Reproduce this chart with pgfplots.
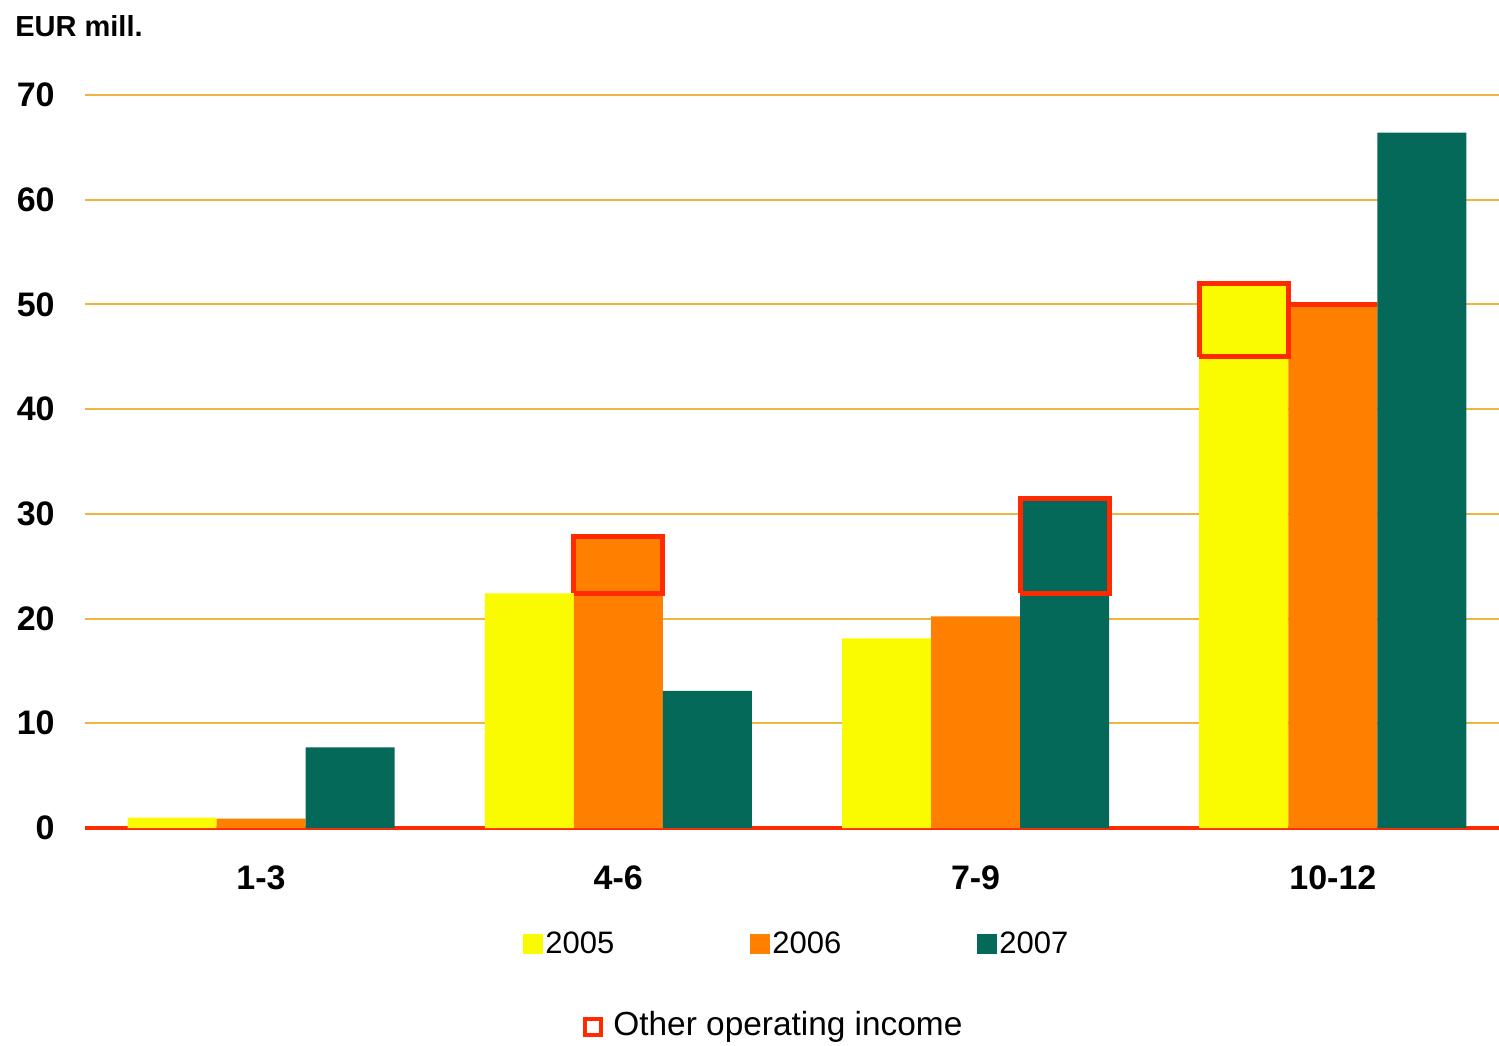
\documentclass[border=0pt]{standalone}
\usepackage{pgfplots}
\pgfplotsset{compat=1.18}
\usepackage{fontspec}
\setmainfont{Liberation Sans}
\definecolor{cY}{HTML}{FAFA00}
\definecolor{cO}{HTML}{FF7F00}
\definecolor{cG}{HTML}{05695A}
\definecolor{cR}{HTML}{FF2A00}
\definecolor{cGrid}{HTML}{F0B440}
\begin{document}
\begin{tikzpicture}
\useasboundingbox (0,0) rectangle (749.5pt,522.5pt);
\begin{axis}[
  at={(42.5pt,108.5pt)}, anchor=south west,
  scale only axis, width=707pt, height=366.5pt,
  xmin=-0.4926, xmax=3.465, ymin=0, ymax=70,
  clip=false,
  axis line style={draw=none}, tick style={draw=none},
  ybar=0pt, bar width=44.5pt,
  ytick={0,10,...,70},
  ymajorgrids, grid style={cGrid, line width=1pt},
  extra y ticks={0}, extra y tick labels={},
  extra y tick style={grid style={cR, line width=2.2pt}},
  xtick={0,1,2,3}, xticklabels={1-3,4-6,7-9,10-12},
  /pgf/number format/assume math mode=true,
  yticklabel style={font=\fontsize{17}{19}\selectfont\bfseries, inner sep=0pt, xshift=-15pt},
  xticklabel style={font=\fontsize{17}{19}\selectfont\bfseries, inner sep=0pt, anchor=north, yshift=-14.5pt},
  legend columns=3,
  legend style={at={(0.3098,-0.158)}, anchor=west, draw=none, fill=none, inner sep=0pt,
    font=\fontsize{15.5}{17}\selectfont, nodes={inner sep=1pt},
    /tikz/every even column/.append style={column sep=67pt}},
  legend image code/.code={\fill[#1] (0pt,-5pt) rectangle (10pt,5pt);},
]
\addplot[fill=cY, draw=none] coordinates {(0,1.0) (1,22.4) (2,18.1) (3,45.0)};
\addplot[fill=cO, draw=none] coordinates {(0,0.9) (1,27.8) (2,20.2) (3,50.0)};
\addplot[fill=cG, draw=none] coordinates {(0,7.7) (1,13.1) (2,31.5) (3,66.4)};
\legend{2005,2006,2007}
% other operating income boxes (not in legend)
\addplot[ybar=0pt, bar shift=-44.5pt, fill=cY, draw=none, forget plot] coordinates {(3,52.0)};
\addplot[sharp plot, draw=cR, line width=2.5pt, forget plot] coordinates {(0.8755,22.4) (1.1245,22.4) (1.1245,27.8) (0.8755,27.8) (0.8755,22.4)};
\addplot[sharp plot, draw=cR, line width=2.5pt, forget plot] coordinates {(2.1245,22.4) (2.3735,22.4) (2.3735,31.5) (2.1245,31.5) (2.1245,22.4)};
\addplot[sharp plot, draw=cR, line width=2.5pt, forget plot] coordinates {(2.6265,45.0) (2.8755,45.0) (2.8755,52.0) (2.6265,52.0) (2.6265,45.0)};
\addplot[sharp plot, draw=cR, line width=2.5pt, forget plot] coordinates {(2.8755,50.0) (3.1245,50.0)};
\end{axis}
\node[anchor=north west, inner sep=0pt, font=\fontsize{14.5}{16}\selectfont\bfseries] at (7.5pt,515pt) {EUR mill.};
\node[anchor=west, inner sep=0pt, font=\fontsize{16.7}{18}\selectfont] at (291.5pt,9pt)
  {\tikz[baseline=-0.5ex]\draw[cR, line width=2pt] (1pt,-4pt) rectangle (9pt,4pt);\hspace{5pt}Other operating income};
\end{tikzpicture}
\end{document}
